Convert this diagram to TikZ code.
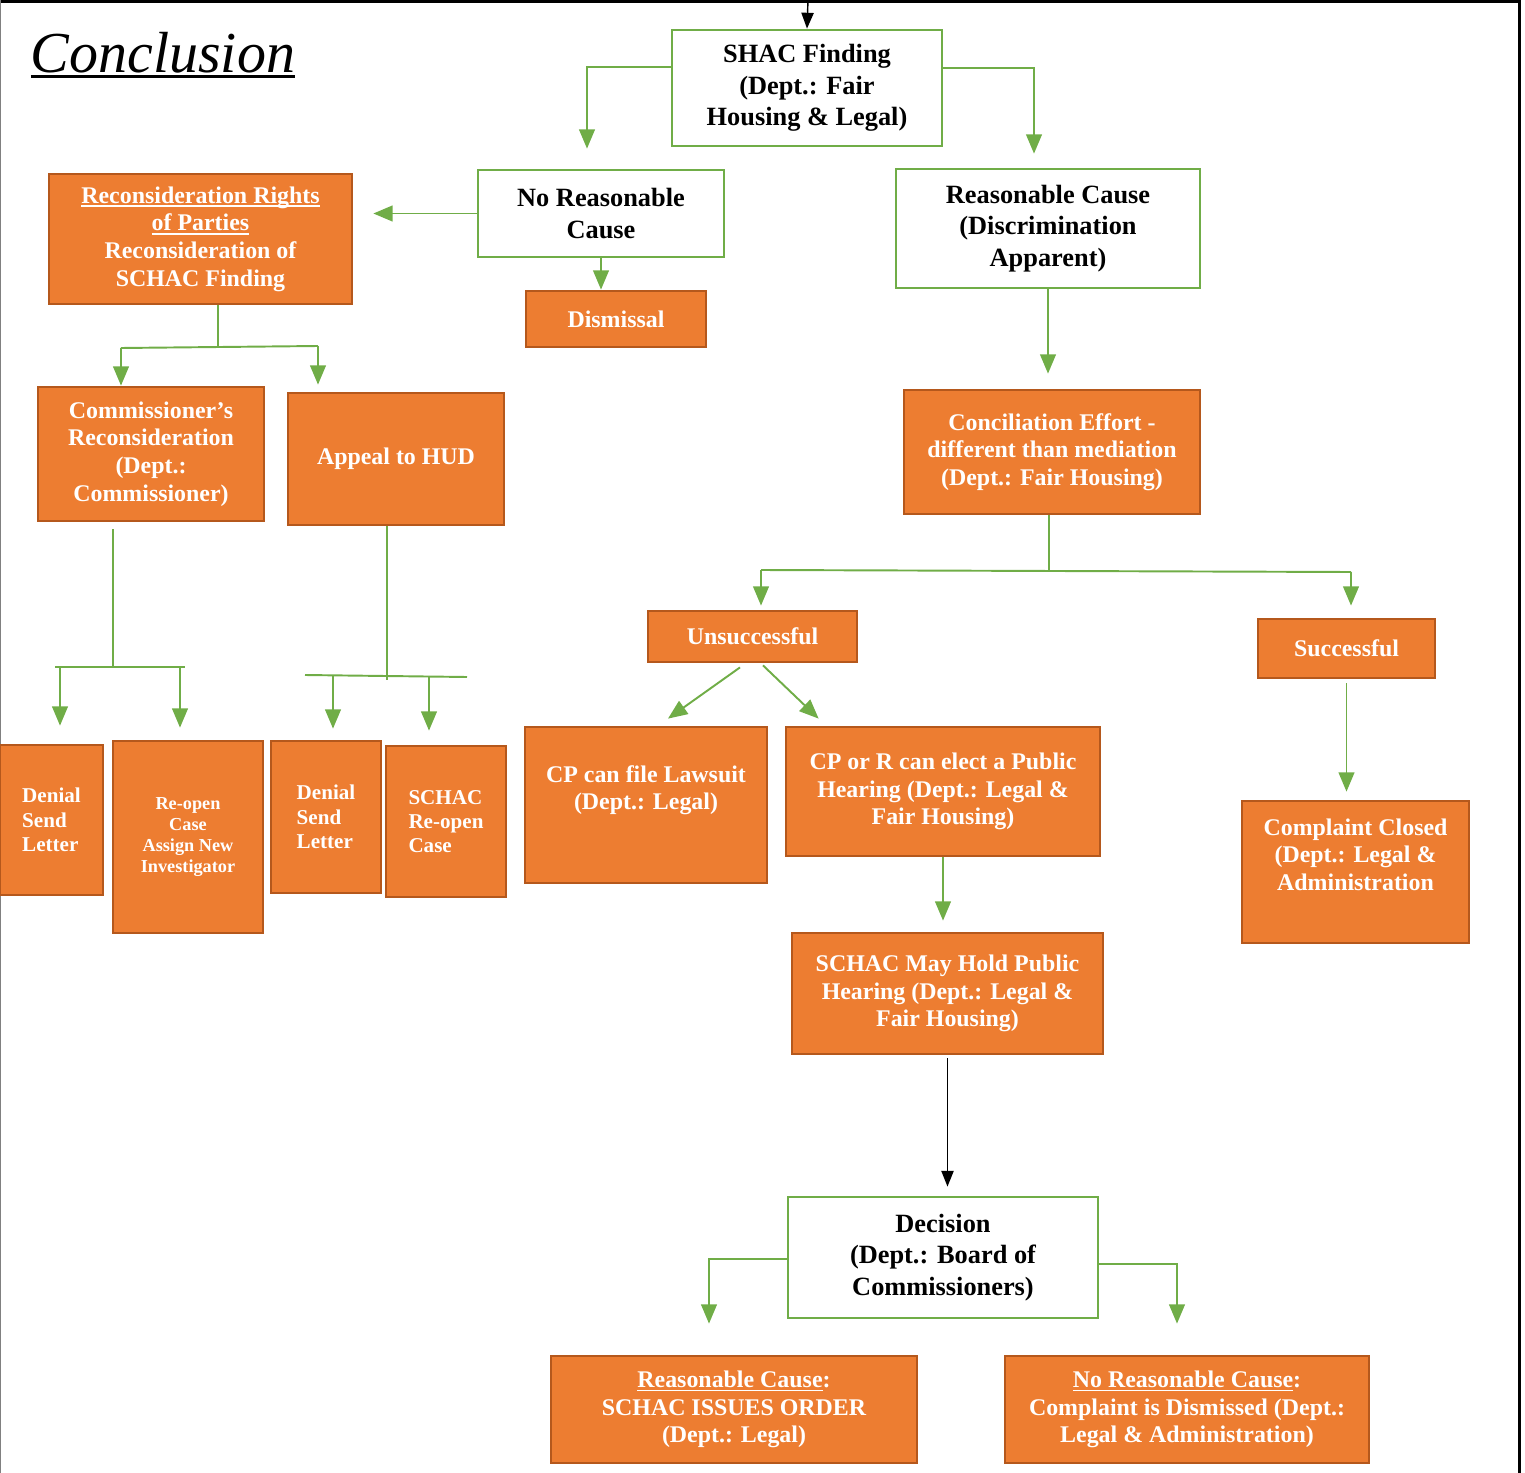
\documentclass[tikz,border=0pt]{standalone}
\usepackage{fontspec}
\setmainfont{Liberation Serif}
\usetikzlibrary{arrows.meta}

\definecolor{boxorange}{HTML}{ED7D31}
\definecolor{boxedge}{HTML}{B5581C}
\definecolor{linkgreen}{HTML}{70AD47}

% underline with a given thickness and depth
\newcommand{\undl}[3][2.2pt]{\setbox0\hbox{#3}\leavevmode\rlap{\rule[-#1]{\wd0}{#2}}\box0}

\tikzset{
    greenbox/.style={draw=linkgreen, line width=1.6pt, fill=white, align=center,
                     font=\bfseries\fontsize{15}{18}\selectfont},
    orangebox/.style={draw=boxedge, line width=1.6pt, fill=boxorange, text=white,
                      align=center, font=\bfseries\fontsize{13.6}{15.8}\selectfont},
    smallbox/.style={orangebox, font=\bfseries\fontsize{12}{13.8}\selectfont},
    tinybox/.style={orangebox, font=\bfseries\fontsize{10.4}{12}\selectfont},
    bar/.style={draw=linkgreen, line width=1.1pt},
    link/.style={bar, -{Triangle[width=9pt,length=11pt]}},
    blacklink/.style={draw=black, line width=0.8pt, -{Triangle[width=7pt,length=9pt]}}
}

\begin{document}
\begin{tikzpicture}[x=0.02cm, y=-0.02cm]
    \useasboundingbox (0,0) rectangle (1525,1473);
    \draw [line width=2pt] (0,1) -- (1520,1);
    \draw [line width=1.7pt] (1519,0) -- (1519,1473);
    \draw [gray, line width=0.8pt] (0.5,0) -- (0.5,1473);

    \draw (163, 55) node (title)
          {\fontsize{33}{36}\selectfont\itshape\undl[3.2pt]{1.5pt}{Conclusion}};

    \draw (807, 88) node
          [greenbox, minimum width=5.4cm, minimum height=2.32cm] (shac)
          {SHAC Finding\\(Dept.: Fair\\Housing \& Legal)};
    \draw (601, 213.5) node
          [greenbox, minimum width=4.92cm, minimum height=1.74cm] (nrc)
          {No Reasonable\\Cause};
    \draw (1048, 228.5) node
          [greenbox, minimum width=6.08cm, minimum height=2.38cm] (rc)
          {Reasonable Cause\\(Discrimination\\Apparent)};

    \draw (200.5, 239) node
          [orangebox, minimum width=6.06cm, minimum height=2.6cm] (recon)
          {\undl{0.9pt}{Reconsideration Rights}\\\undl{0.9pt}{of Parties}\\Reconsideration of\\SCHAC Finding};
    \draw (616, 319) node
          [orangebox, minimum width=3.6cm, minimum height=1.12cm] (dismissal)
          {Dismissal};
    \draw (151, 454) node
          [orangebox, minimum width=4.52cm, minimum height=2.68cm] (comrecon)
          {Commissioner’s\\Reconsideration\\(Dept.:\\Commissioner)};
    \draw (396, 459) node
          [orangebox, minimum width=4.32cm, minimum height=2.64cm] (hud)
          {Appeal to HUD};
    \draw (1052, 452) node
          [orangebox, minimum width=5.92cm, minimum height=2.48cm] (concil)
          {Conciliation Effort -\\different than mediation\\(Dept.: Fair Housing)};

    \draw (752.5, 636.5) node
          [orangebox, minimum width=4.18cm, minimum height=1.02cm] (unsucc)
          {Unsuccessful};
    \draw (1346.5, 648.5) node
          [orangebox, minimum width=3.54cm, minimum height=1.18cm] (succ)
          {Successful};

    \draw (51.5, 820) node
          [smallbox, align=left, minimum width=2.06cm, minimum height=3cm] (denialA)
          {Denial\\Send\\Letter};
    \draw (188, 837) node
          [tinybox, minimum width=3cm, minimum height=3.84cm] (reopen)
          {Re-open\\Case\\Assign New\\Investigator};
    \draw (326, 817) node
          [smallbox, align=left, minimum width=2.2cm, minimum height=3.04cm] (denialB)
          {Denial\\Send\\Letter};
    \draw (446, 821.5) node
          [smallbox, align=left, minimum width=2.4cm, minimum height=3.02cm] (schacre)
          {SCHAC\\Re-open\\Case};

    \draw (646, 805) node
          [orangebox, minimum width=4.84cm, minimum height=3.12cm] (lawsuit)
          {CP can file Lawsuit\\(Dept.: Legal)\\[4pt]\mbox{}};
    \draw (943, 791.5) node
          [orangebox, minimum width=6.28cm, minimum height=2.58cm] (public)
          {CP or R can elect a Public\\Hearing (Dept.: Legal \&\\Fair Housing)};
    \draw (1355.5, 872) node
          [orangebox, minimum width=4.54cm, minimum height=2.84cm] (closed)
          {Complaint Closed\\(Dept.: Legal \&\\Administration\\[4pt]\mbox{}};
    \draw (947.5, 993.5) node
          [orangebox, minimum width=6.22cm, minimum height=2.42cm] (hold)
          {SCHAC May Hold Public\\Hearing (Dept.: Legal \&\\Fair Housing)};

    \draw (943, 1257.5) node
          [greenbox, minimum width=6.2cm, minimum height=2.42cm] (decision)
          {Decision\\(Dept.: Board of\\Commissioners)};
    \draw (734, 1409.5) node
          [orangebox, minimum width=7.32cm, minimum height=2.14cm] (order)
          {\undl{0.9pt}{Reasonable Cause}:\\SCHAC ISSUES ORDER\\(Dept.: Legal)};
    \draw (1187, 1409.5) node
          [orangebox, minimum width=7.28cm, minimum height=2.14cm] (dismissed)
          {\undl{0.9pt}{No Reasonable Cause}:\\Complaint is Dismissed (Dept.:\\Legal \& Administration)};

    \coordinate (entry) at (808, 0);
    \coordinate (sl) at (587, 67);
    \coordinate (sr) at (1034, 68);
    \coordinate (rjoin) at (218, 347);
    \coordinate (rl) at (121, 348);
    \coordinate (rr) at (318, 346);
    \coordinate (cjoin) at (113, 667);
    \coordinate (cl) at (55, 667);
    \coordinate (cr) at (185, 667);
    \coordinate (ca) at (60, 667);
    \coordinate (cb) at (180, 667);
    \coordinate (hjoin) at (387, 677);
    \coordinate (hl) at (305, 675);
    \coordinate (hr) at (467, 677);
    \coordinate (ha) at (333, 676);
    \coordinate (hb) at (429, 677);
    \coordinate (kjoin) at (1049, 571);
    \coordinate (kl) at (761, 570);
    \coordinate (kr) at (1351, 572);
    \coordinate (dl) at (709, 1259);
    \coordinate (dr) at (1177, 1264);

    \draw [blacklink] (entry) -- (shac.north);
    \draw [link, shorten >=0.4cm] ([yshift=0.42cm]shac.west) -| (sl |- nrc.north);
    \draw [link, shorten >=0.28cm] ([yshift=0.4cm]shac.east) -| (sr |- rc.north);
    \draw [link, shorten >=0.4cm] (nrc.west) -- (recon.east |- nrc.west);
    \draw [link] (nrc.south) -- (nrc.south |- dismissal.north);
    \draw [link, shorten >=0.3cm] (rc.south) -- (rc.south |- concil.north);

    \draw [bar] (rjoin |- recon.south) -- (rjoin);
    \draw [bar] (rl) -- (rr);
    \draw [link] (rl) -- (rl |- comrecon.north);
    \draw [link, shorten >=0.14cm] (rr) -- (rr |- hud.north);

    \draw [bar, shorten <=0.14cm] (cjoin |- comrecon.south) -- (cjoin);
    \draw [bar] (cl) -- (cr);
    \draw [link, shorten >=0.36cm] (ca) -- (ca |- denialA.north);
    \draw [link, shorten >=0.24cm] (cb) -- (cb |- reopen.north);

    \draw [bar] (hjoin |- hud.south) -- ([yshift=-0.06cm]hjoin);
    \draw [bar] (hl) -- (hr);
    \draw [link, shorten >=0.22cm] (ha) -- (ha |- denialB.north);
    \draw [link, shorten >=0.28cm] (hb) -- (hb |- schacre.north);

    \draw [bar] (kjoin |- concil.south) -- (kjoin);
    \draw [bar] (kl) -- (kr);
    \draw [link, shorten >=0.08cm] (kl) -- (kl |- unsucc.north);
    \draw [link, shorten >=0.24cm] (kr) -- (kr |- succ.north);

    \draw [link] ([xshift=-0.25cm, yshift=-0.08cm]unsucc.south)
          -- ([xshift=0.44cm, yshift=0.14cm]lawsuit.north);
    \draw [link] ([xshift=0.21cm, yshift=-0.04cm]unsucc.south)
          -- ([xshift=0.68cm, yshift=0.14cm]public.north west);
    \draw [link, shorten <=0.08cm, shorten >=0.16cm] (succ.south) -- (succ.south |- closed.north);
    \draw [link, shorten >=0.22cm] (public.south) -- (public.south |- hold.north);
    \draw [blacklink, shorten <=0.06cm, shorten >=0.18cm] (hold.south) -- (hold.south |- decision.north);

    \draw [link, shorten >=0.62cm] (decision.west |- dl) -| (dl |- order.north);
    \draw [link, shorten >=0.62cm] (decision.east |- dr) -| (dr |- dismissed.north);
\end{tikzpicture}
\end{document}
